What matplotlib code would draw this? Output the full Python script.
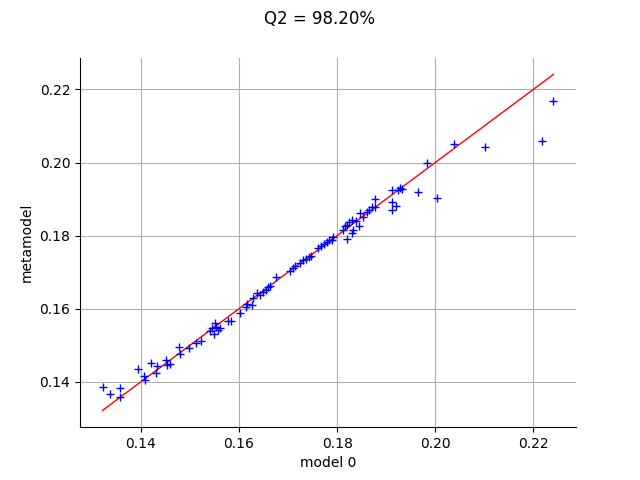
import matplotlib
matplotlib.use("Agg")
import matplotlib.pyplot as plt

# model output (x) vs metamodel prediction (y)
model = [0.1322, 0.1338, 0.1357, 0.1357, 0.1394, 0.1406, 0.1409, 0.1420, 0.1433, 0.1431,
         0.1451, 0.1453, 0.1459, 0.1478, 0.1480, 0.1498, 0.1512, 0.1522, 0.1541, 0.1545,
         0.1551, 0.1553, 0.1557, 0.1549, 0.1561, 0.1578, 0.1584, 0.1602, 0.1614, 0.1616,
         0.1627, 0.1629, 0.1637, 0.1643, 0.1649, 0.1655, 0.1659, 0.1663, 0.1676, 0.1704,
         0.1710, 0.1714, 0.1724, 0.1731, 0.1737, 0.1743, 0.1747, 0.1761, 0.1767, 0.1773,
         0.1780, 0.1784, 0.1790, 0.1792, 0.1812, 0.1816, 0.1820, 0.1820, 0.1824, 0.1831,
         0.1831, 0.1833, 0.1839, 0.1845, 0.1847, 0.1853, 0.1861, 0.1865, 0.1871, 0.1878,
         0.1878, 0.1911, 0.1924, 0.1929, 0.1933, 0.1912, 0.1920, 0.1912, 0.1965, 0.1984,
         0.2003, 0.2039, 0.2102, 0.2218, 0.2241]
metamodel = [0.1386, 0.1367, 0.1384, 0.1360, 0.1436, 0.1416, 0.1405, 0.1452, 0.1444, 0.1423,
             0.1460, 0.1447, 0.1449, 0.1496, 0.1477, 0.1493, 0.1507, 0.1512, 0.1540, 0.1548,
             0.1562, 0.1551, 0.1542, 0.1532, 0.1548, 0.1567, 0.1567, 0.1589, 0.1605, 0.1614,
             0.1611, 0.1630, 0.1644, 0.1638, 0.1647, 0.1652, 0.1660, 0.1663, 0.1688, 0.1703,
             0.1712, 0.1718, 0.1726, 0.1733, 0.1737, 0.1742, 0.1745, 0.1767, 0.1773, 0.1778,
             0.1782, 0.1789, 0.1788, 0.1795, 0.1816, 0.1825, 0.1830, 0.1792, 0.1836, 0.1844,
             0.1808, 0.1816, 0.1841, 0.1825, 0.1863, 0.1852, 0.1866, 0.1871, 0.1877, 0.1899,
             0.1879, 0.1926, 0.1925, 0.1930, 0.1927, 0.1892, 0.1882, 0.1870, 0.1919, 0.2000,
             0.1904, 0.2052, 0.2042, 0.2058, 0.2168]
q2 = 98.20

fig, ax = plt.subplots(figsize=(6.4, 4.8), dpi=100)
lo, hi = min(model), max(model)
ax.plot([lo, hi], [lo, hi], color="red", linewidth=1)
ax.plot(model, metamodel, "+", color="blue", linestyle="none")

ax.set_xticks([0.14, 0.16, 0.18, 0.20, 0.22])
ax.set_yticks([0.14, 0.16, 0.18, 0.20, 0.22])
ax.set_xlabel("model 0")
ax.set_ylabel("metamodel")
ax.grid(True)
ax.spines["top"].set_visible(False)
ax.spines["right"].set_visible(False)
fig.suptitle("Q2 = %.2f%%" % q2)

fig.savefig("out.png")
